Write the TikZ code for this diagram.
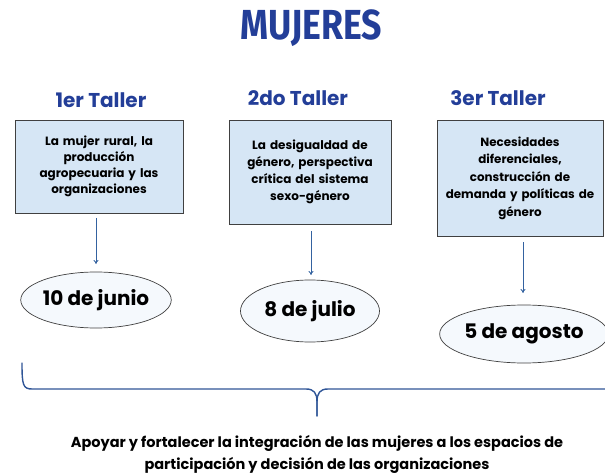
\documentclass[tikz,border=0pt]{standalone}
\usepackage{fontspec}
\setmainfont{Poppins}
\newfontfamily\titlefont{Fira Sans}
\usetikzlibrary{arrows.meta,shapes.geometric}
\definecolor{titleblue}{RGB}{35,62,152}
\definecolor{arrowblue}{RGB}{52,98,160}
\definecolor{braceblue}{RGB}{47,85,151}
\definecolor{boxfill}{RGB}{214,230,245}
\definecolor{ellfill}{RGB}{245,249,253}
\definecolor{edgegray}{RGB}{64,64,64}
\tikzset{
  tallertitle/.style={text=titleblue, font=\bfseries\fontsize{20}{22}\selectfont, inner sep=0pt},
  topicbox/.style={draw=edgegray, line width=0.8pt, fill=boxfill, align=center, inner xsep=0pt, inner ysep=2pt, font=\bfseries},
  datebox/.style={ellipse, draw=edgegray, line width=0.7pt, fill=ellfill, inner sep=0pt, font=\bfseries\fontsize{20}{22}\selectfont},
  linkarrow/.style={draw=arrowblue, line width=0.9pt, -{To[length=4pt,width=5pt]}},
  bracestyle/.style={draw=braceblue, line width=1.4pt, line cap=round, line join=round}
}
\begin{document}
\begin{tikzpicture}[x=1pt,y=-1pt]
\useasboundingbox (0,0) rectangle (605,473);

\node[text=titleblue, inner sep=0pt] (title) at (311,28)
  {\scalebox{0.85}[1]{\titlefont\bfseries\fontsize{42}{42}\selectfont MUJERES}};

\node[tallertitle] (t1) at (101,100) {1er Taller};
\node[tallertitle] (t2) at (298,98) {2do Taller};
\node[tallertitle] (t3) at (498,98) {3er Taller};

\node[topicbox, minimum width=168pt, minimum height=93pt, text width=166pt, font=\bfseries\fontsize{12}{15.8}\selectfont] (b1) at (99,166.5)
  {La mujer rural, la\\producción\\agropecuaria y las\\organizaciones};
\node[topicbox, minimum width=162pt, minimum height=104pt, text width=160pt, font=\bfseries\fontsize{12}{17}\selectfont] (b2) at (310,172)
  {La desigualdad de\\género, perspectiva\\crítica del sistema\\sexo-género};
\node[topicbox, minimum width=166pt, minimum height=116pt, text width=166pt, font=\bfseries\fontsize{11.9}{17.5}\selectfont] (b3) at (520,178)
  {Necesidades\\diferenciales,\\construcción de\\demanda y políticas de\\género};

\node[datebox, minimum width=141pt, minimum height=56pt] (d1) at (96,300) {10 de junio};
\node[datebox, minimum width=139pt, minimum height=62pt] (d2) at (310,311) {8 de julio};
\node[datebox, minimum width=138pt, minimum height=58pt] (d3) at (524,334) {5 de agosto};

\coordinate (a1s) at (96,218);
\coordinate (a1e) at (96,264);
\coordinate (a2s) at (311,231);
\coordinate (a2e) at (311,275);
\coordinate (a3s) at (523,242);
\coordinate (a3e) at (523,293);
\draw[linkarrow] (a1s) -- (a1e);
\draw[linkarrow] (a2s) -- (a2e);
\draw[linkarrow] (a3s) -- (a3e);

\coordinate (bl) at (22,363);
\coordinate (btip) at (317,416);
\coordinate (br) at (606,389);
\draw[bracestyle] (bl) .. controls (22,385) and (23,389) .. (32,389)
  -- (306,389) .. controls (314,389) and (317,393) .. (317,402) -- (btip);
\draw[bracestyle] (btip) -- (317,402) .. controls (317,393) and (320,389) .. (328,389) -- (br);

\node[align=center, font=\bfseries\fontsize{14.5}{22}\selectfont, inner sep=0pt] (goal) at (317,454)
  {Apoyar y fortalecer la integración de las mujeres a los espacios de\\participación y decisión de las organizaciones};
\end{tikzpicture}
\end{document}
